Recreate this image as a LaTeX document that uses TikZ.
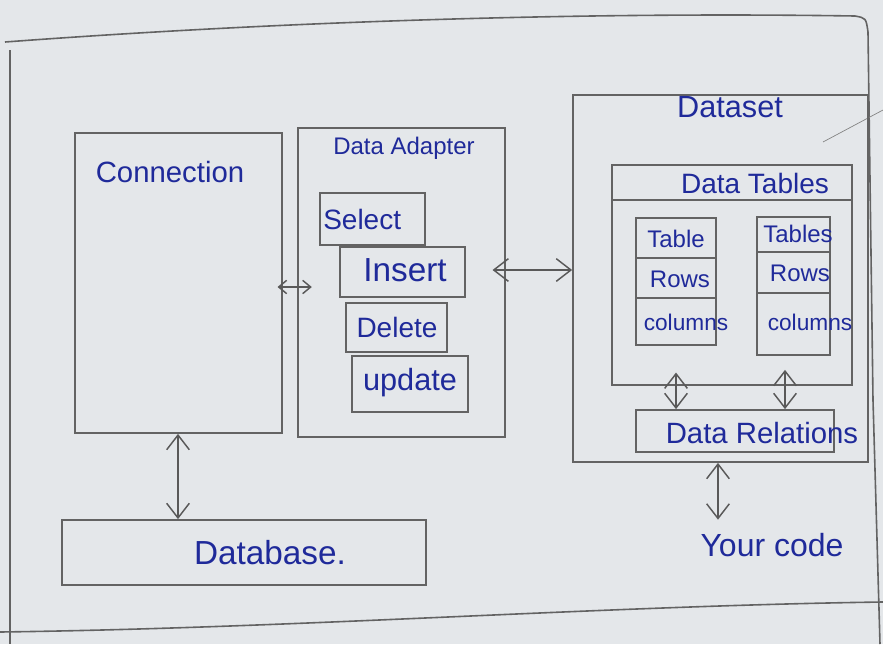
\documentclass[tikz,border=0pt]{standalone}
\usepackage{fontspec}
\setmainfont{Liberation Sans}
\usetikzlibrary{arrows.meta,fit}
\definecolor{paper}{HTML}{E4E7EA}
\definecolor{pencil}{HTML}{636363}
\definecolor{ink}{HTML}{1F2A9A}
\tikzset{
  box/.style={draw=pencil, line width=1.3pt, inner sep=0pt},
  sep/.style={draw=pencil, line width=1.1pt},
  frame/.style={draw=pencil, line width=1.2pt},
  lbl/.style={text=ink, inner sep=0pt, font=\fontsize{#1}{#1}\selectfont},
  dbl/.style={{Straight Barb[length=11pt,width=17pt]}-{Straight Barb[length=11pt,width=17pt]}, draw=pencil!90!black, line width=1.1pt},
  dblsmall/.style={{Straight Barb[length=6pt,width=10pt]}-{Straight Barb[length=6pt,width=10pt]}, draw=pencil!90!black, line width=1.1pt}
}
\begin{document}
\begin{tikzpicture}[x=0.75pt,y=-0.75pt]
\useasboundingbox (0,0) rectangle (883,644);
\fill[paper] (0,0) rectangle (883,644);
% outer frame
\draw[frame] (5,42) .. controls (300,20) and (600,12) .. (855,16) .. controls (866,18) .. (868,32) -- (873,400) -- (880,644);
\draw[frame] (10,50) -- (10,644);
\draw[frame] (0,632) .. controls (300,628) and (600,606) .. (883,602);
\draw[pencil!80, line width=0.5pt] (823,142) -- (883,110);

% Connection
\node[box, fit={(75,133) (282,433)}] (conn) {};
\node[lbl=22] (connlbl) at (170,172) {Connection};

% Data Adapter
\node[box, fit={(298,128) (505,437)}] (adapter) {};
\node[lbl=18] (adlbl) at (404,148) {Data Adapter};
\node[box, fit={(320,193) (425,245)}] (select) {};
\node[lbl=21, anchor=west] (sellbl) at (323,219) {Select};
\node[box, fit={(340,247) (465,297)}] (insert) {};
\node[lbl=25] (inslbl) at (405,270) {Insert};
\node[box, fit={(346,303) (447,352)}] (delete) {};
\node[lbl=21] (dellbl) at (397,327) {Delete};
\node[box, fit={(352,356) (468,412)}] (update) {};
\node[lbl=23] (updlbl) at (410,383) {update};

% Dataset
\node[box, fit={(573,95) (868,462)}] (dataset) {};
\node[lbl=23] (dslbl) at (730,107) {Dataset};
\node[box, fit={(612,165) (852,385)}] (tables) {};
\draw[sep] (tables.west |- 0,200) -- (tables.east |- 0,200);
\node[lbl=21] (tablbl) at (755,183) {Data Tables};

\node[box, fit={(636,218) (716,345)}] (t1) {};
\draw[sep] (t1.west |- 0,258) -- (t1.east |- 0,258);
\draw[sep] (t1.west |- 0,298) -- (t1.east |- 0,298);
\node[lbl=18] (t1a) at (676,239) {Table};
\node[lbl=18] (t1b) at (680,279) {Rows};
\node[lbl=17] (t1c) at (686,322) {columns};

\node[box, fit={(757,217) (830,355)}] (t2) {};
\draw[sep] (t2.west |- 0,252) -- (t2.east |- 0,252);
\draw[sep] (t2.west |- 0,293) -- (t2.east |- 0,293);
\node[lbl=18] (t2a) at (798,234) {Tables};
\node[lbl=18] (t2b) at (800,273) {Rows};
\node[lbl=17] (t2c) at (810,322) {columns};

\node[box, fit={(636,410) (834,452)}] (rel) {};
\node[lbl=22] (rellbl) at (762,433) {Data Relations};

\node[lbl=24] (code) at (772,545) {Your code};

% Database
\node[box, fit={(62,520) (426,585)}] (db) {};
\node[lbl=25] (dblbl) at (270,553) {Database.};

% connectors
\draw[dblsmall, shorten <=-4pt, shorten >=-11pt] (conn.east |- 0,287) -- (adapter.west |- 0,287);
\draw[dbl, shorten <=-10pt] (adapter.east |- 0,270) -- (dataset.west |- 0,270);
\draw[dbl] (conn.south -| 178,0) -- (db.north -| 178,0);
\draw[dbl, shorten <=-10pt] (tables.south -| 676,0) -- (rel.north -| 676,0);
\draw[dbl, shorten <=-12pt] (tables.south -| 785,0) -- (rel.north -| 785,0);
\draw[dbl, shorten >=10pt] (dataset.south -| 718,0) -- (code.north -| 718,0);
\end{tikzpicture}
\end{document}
